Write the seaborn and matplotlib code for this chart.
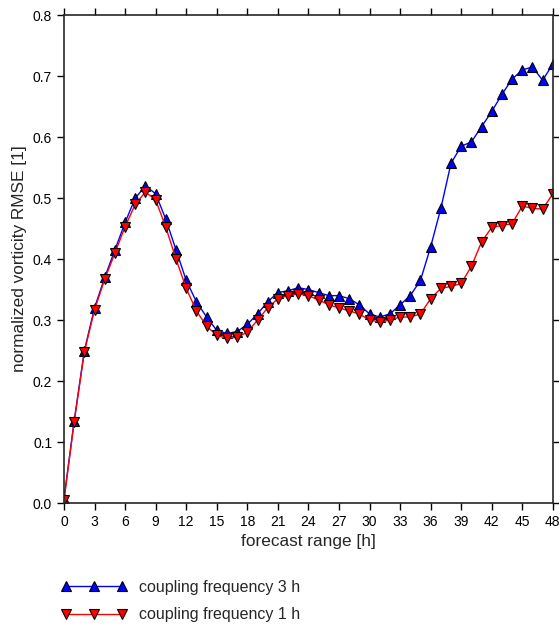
"""normalized vorticity RMSE vs forecast range for two coupling frequencies"""

import pandas as pd
import matplotlib.pyplot as plt
import seaborn as sns

hours = list(range(49))
rmse_3h = [0.007, 0.135, 0.25, 0.32, 0.37, 0.415, 0.46, 0.50, 0.52, 0.507,
           0.465, 0.415, 0.365, 0.33, 0.305, 0.283, 0.278, 0.281, 0.293, 0.31,
           0.33, 0.345, 0.348, 0.353, 0.35, 0.345, 0.34, 0.34, 0.335, 0.325,
           0.31, 0.305, 0.31, 0.325, 0.34, 0.365, 0.42, 0.483, 0.557, 0.585,
           0.592, 0.617, 0.642, 0.67, 0.695, 0.71, 0.715, 0.693, 0.72]
rmse_1h = [0.005, 0.133, 0.248, 0.317, 0.367, 0.41, 0.453, 0.49, 0.51, 0.497,
           0.452, 0.40, 0.352, 0.315, 0.29, 0.275, 0.27, 0.272, 0.28, 0.30,
           0.32, 0.335, 0.34, 0.343, 0.34, 0.333, 0.325, 0.32, 0.315, 0.31,
           0.30, 0.297, 0.30, 0.305, 0.305, 0.31, 0.335, 0.352, 0.355, 0.36,
           0.388, 0.428, 0.452, 0.455, 0.458, 0.487, 0.483, 0.482, 0.507]
labels = ["coupling frequency 3 h", "coupling frequency 1 h"]

df = pd.DataFrame({"hour": hours, "r3": rmse_3h, "r1": rmse_1h})

sns.set_style("ticks")
plt.rcParams["font.family"] = ["Liberation Sans", "DejaVu Sans"]

fig = plt.figure(figsize=(5.59, 6.28), dpi=100)
ax = fig.add_axes([0.1145, 0.199, 0.8745, 0.777])

sns.lineplot(data=df, x="hour", y="r3", ax=ax, color="blue", lw=1,
             marker="^", markersize=7, markerfacecolor="blue",
             markeredgecolor="black", markeredgewidth=0.8, label=labels[0])
sns.lineplot(data=df, x="hour", y="r1", ax=ax, color="red", lw=1,
             marker="v", markersize=7, markerfacecolor="red",
             markeredgecolor="black", markeredgewidth=0.8, label=labels[1])

ax.set_xlim(0, 48)
ax.set_ylim(0, 0.8)
ax.set_xticks(range(0, 49, 3))
ax.set_yticks([i / 10 for i in range(9)])
ax.set_yticklabels([f"{i / 10:.1f}" for i in range(9)])
ax.tick_params(direction="out", top=True, right=True, length=5, width=1,
               labelsize=10, colors="black")
for sp in ax.spines.values():
    sp.set_linewidth(1.2)
    sp.set_visible(True)
ax.set_xlabel("forecast range [h]", fontsize=12.4)
ax.set_ylabel("normalized vorticity RMSE [1]", fontsize=12.4)

handles, labs = ax.get_legend_handles_labels()
ax.get_legend().remove()
fig.legend(handles, labs, loc="lower left", bbox_to_anchor=(0.084, -0.014),
           frameon=False, numpoints=3, handlelength=4.1, handletextpad=0.75,
           fontsize=11.5, labelspacing=0.8)

fig.savefig("out.png", dpi=100)
plt.close()
